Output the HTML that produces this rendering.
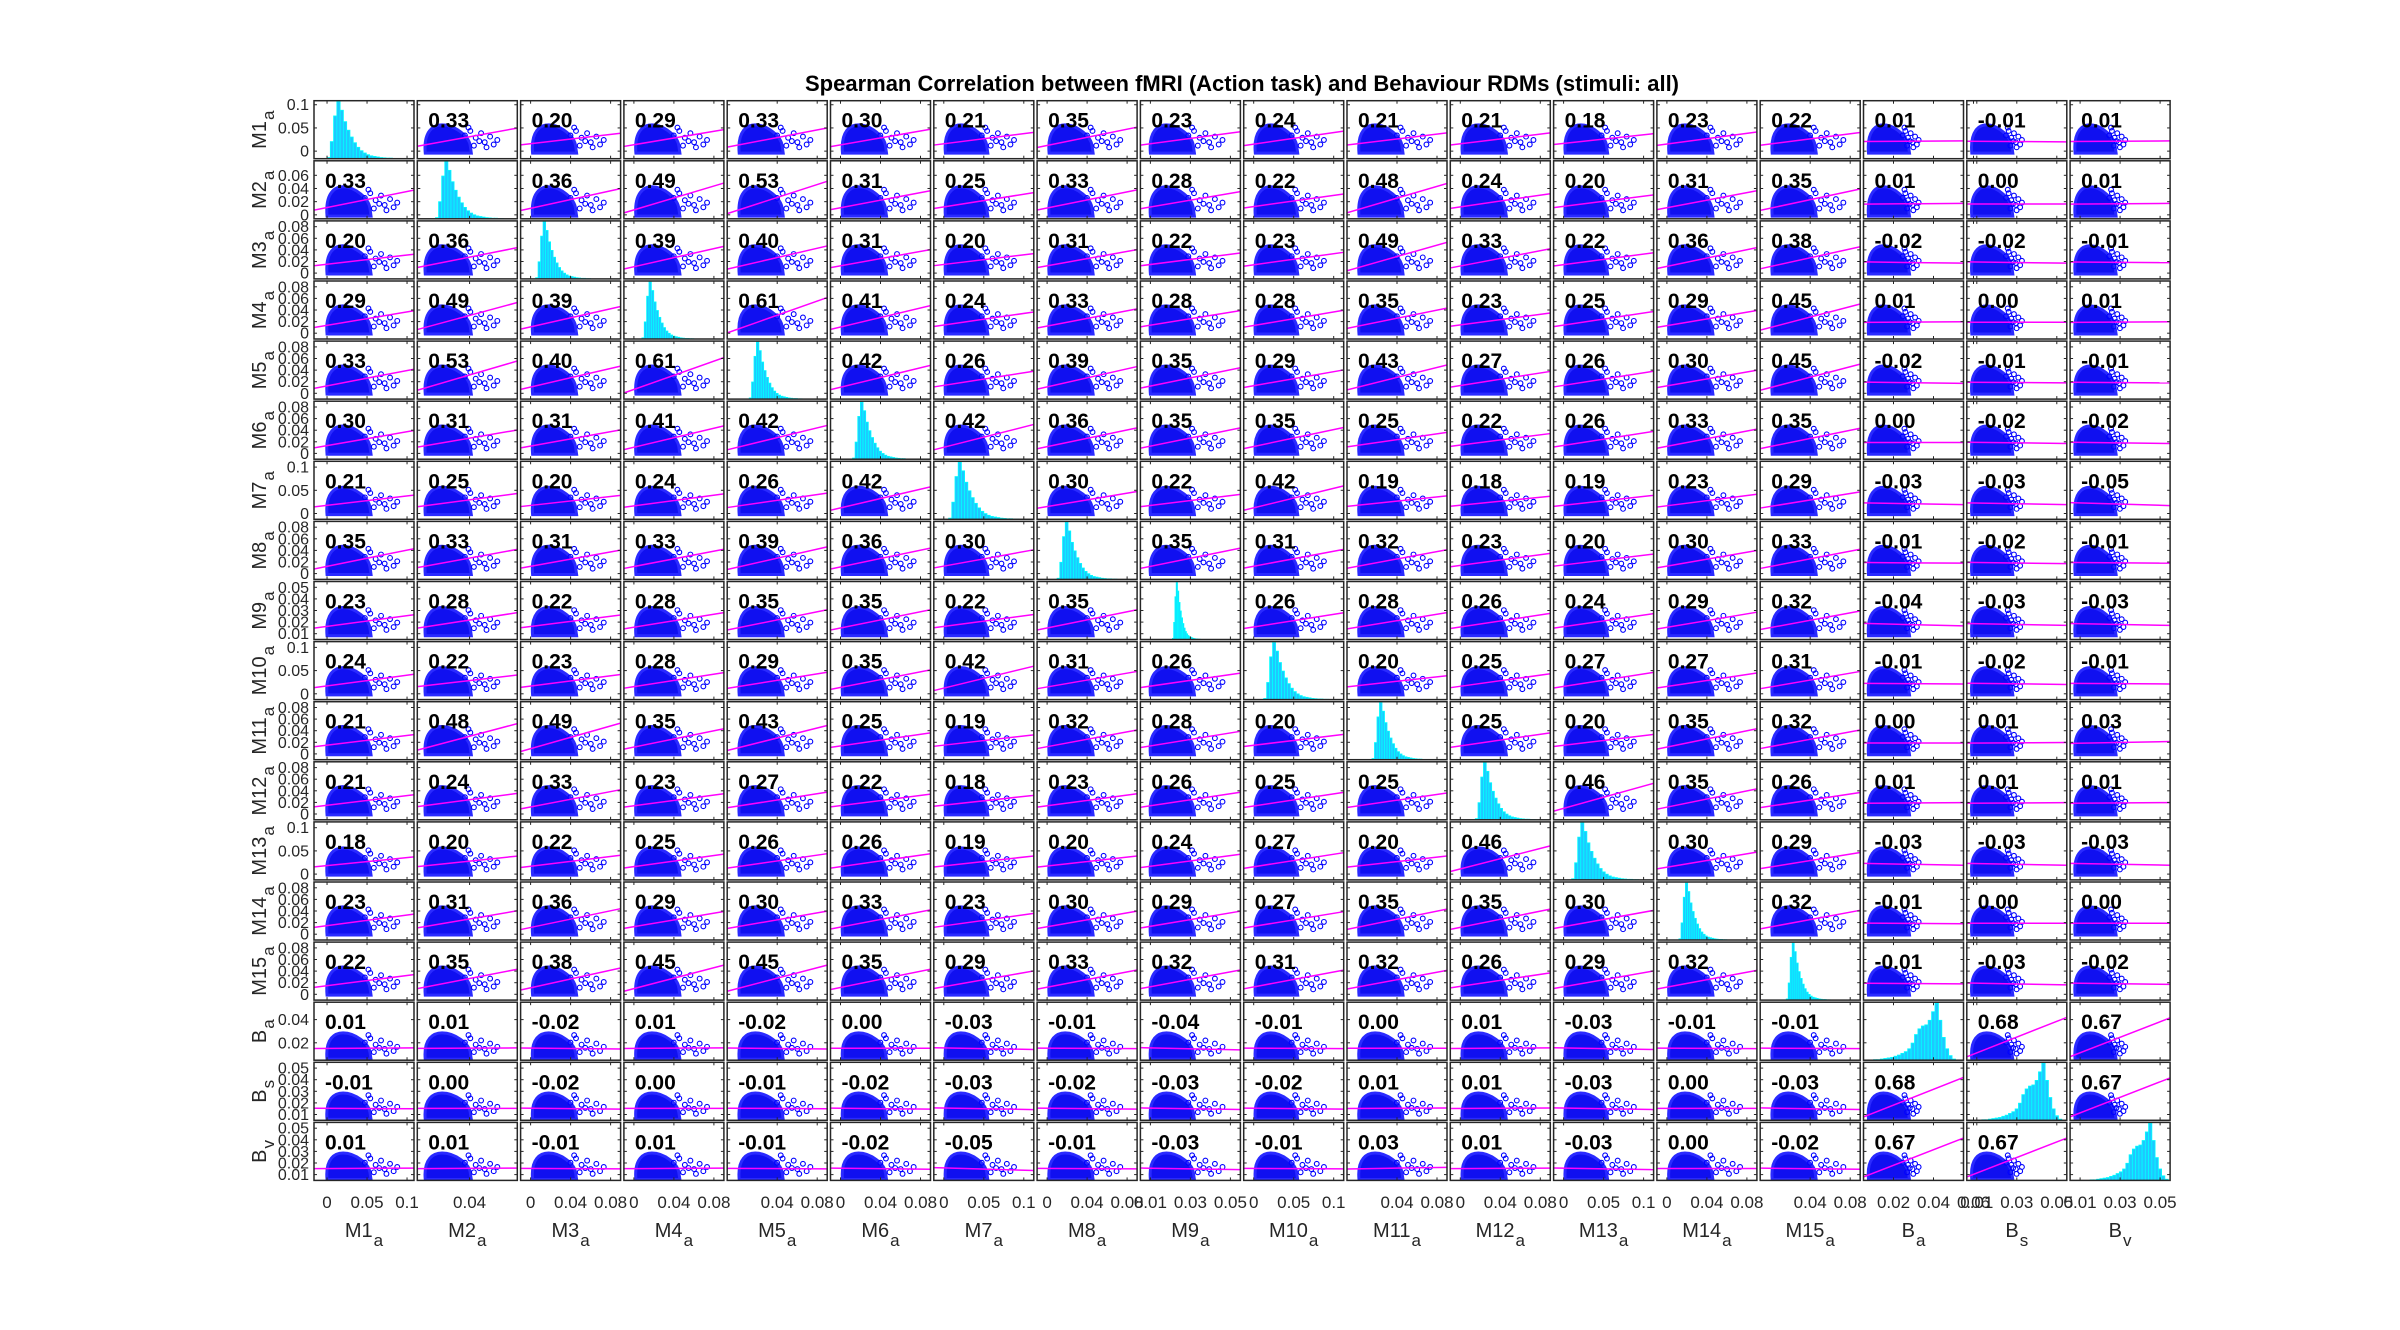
<!DOCTYPE html>
<html><head><meta charset="utf-8">
<style>
html,body{margin:0;padding:0;background:#fff;}
svg{display:block;}
text{font-family:"Liberation Sans",Arial,sans-serif;}
</style></head>
<body>
<svg id="chart" width="2400" height="1330" viewBox="0 0 2400 1330" xmlns="http://www.w3.org/2000/svg">
<rect x="0" y="0" width="2400" height="1330" fill="#fff"/>
<text x="1242" y="91" text-anchor="middle" font-size="22" font-weight="bold" fill="#000">Spearman Correlation between fMRI (Action task) and Behaviour RDMs (stimuli: all)</text>
<g id="cells"></g>
</svg>
<script>
// ---- data ----
const varNames = ["M1","M2","M3","M4","M5","M6","M7","M8","M9","M10","M11","M12","M13","M14","M15","B","B","B"];
const varSubs  = ["a","a","a","a","a","a","a","a","a","a","a","a","a","a","a","a","s","v"];
const corrRows = [
"-,0.33,0.20,0.29,0.33,0.30,0.21,0.35,0.23,0.24,0.21,0.21,0.18,0.23,0.22,0.01,-0.01,0.01",
"0.33,-,0.36,0.49,0.53,0.31,0.25,0.33,0.28,0.22,0.48,0.24,0.20,0.31,0.35,0.01,0.00,0.01",
"0.20,0.36,-,0.39,0.40,0.31,0.20,0.31,0.22,0.23,0.49,0.33,0.22,0.36,0.38,-0.02,-0.02,-0.01",
"0.29,0.49,0.39,-,0.61,0.41,0.24,0.33,0.28,0.28,0.35,0.23,0.25,0.29,0.45,0.01,-0.00,0.01",
"0.33,0.53,0.40,0.61,-,0.42,0.26,0.39,0.35,0.29,0.43,0.27,0.26,0.30,0.45,-0.02,-0.01,-0.01",
"0.30,0.31,0.31,0.41,0.42,-,0.42,0.36,0.35,0.35,0.25,0.22,0.26,0.33,0.35,-0.00,-0.02,-0.02",
"0.21,0.25,0.20,0.24,0.26,0.42,-,0.30,0.22,0.42,0.19,0.18,0.19,0.23,0.29,-0.03,-0.03,-0.05",
"0.35,0.33,0.31,0.33,0.39,0.36,0.30,-,0.35,0.31,0.32,0.23,0.20,0.30,0.33,-0.01,-0.02,-0.01",
"0.23,0.28,0.22,0.28,0.35,0.35,0.22,0.35,-,0.26,0.28,0.26,0.24,0.29,0.32,-0.04,-0.03,-0.03",
"0.24,0.22,0.23,0.28,0.29,0.35,0.42,0.31,0.26,-,0.20,0.25,0.27,0.27,0.31,-0.01,-0.02,-0.01",
"0.21,0.48,0.49,0.35,0.43,0.25,0.19,0.32,0.28,0.20,-,0.25,0.20,0.35,0.32,0.00,0.01,0.03",
"0.21,0.24,0.33,0.23,0.27,0.22,0.18,0.23,0.26,0.25,0.25,-,0.46,0.35,0.26,0.01,0.01,0.01",
"0.18,0.20,0.22,0.25,0.26,0.26,0.19,0.20,0.24,0.27,0.20,0.46,-,0.30,0.29,-0.03,-0.03,-0.03",
"0.23,0.31,0.36,0.29,0.30,0.33,0.23,0.30,0.29,0.27,0.35,0.35,0.30,-,0.32,-0.01,-0.00,0.00",
"0.22,0.35,0.38,0.45,0.45,0.35,0.29,0.33,0.32,0.31,0.32,0.26,0.29,0.32,-,-0.01,-0.03,-0.02",
"0.01,0.01,-0.02,0.01,-0.02,-0.00,-0.03,-0.01,-0.04,-0.01,0.00,0.01,-0.03,-0.01,-0.01,-,0.68,0.67",
"-0.01,0.00,-0.02,-0.00,-0.01,-0.02,-0.03,-0.02,-0.03,-0.02,0.01,0.01,-0.03,-0.00,-0.03,0.68,-,0.67",
"0.01,0.01,-0.01,0.01,-0.01,-0.02,-0.05,-0.01,-0.03,-0.01,0.03,0.01,-0.03,0.00,-0.02,0.67,0.67,-"
];
const axisLo = [-0.0163,-0.006,-0.01,-0.01,-0.01,-0.01,-0.0125,-0.01,0.005,-0.0125,-0.01,-0.01,-0.0125,-0.01,-0.01,0.005,0.005,0.005];
const axisHi = [0.1087,0.082,0.09,0.09,0.09,0.09,0.1125,0.09,0.055,0.1125,0.09,0.09,0.1125,0.09,0.09,0.055,0.055,0.055];
const yTicks = [
[0,0.05,0.1],[0,0.02,0.04,0.06],[0,0.02,0.04,0.06,0.08],[0,0.02,0.04,0.06,0.08],[0,0.02,0.04,0.06,0.08],
[0,0.02,0.04,0.06,0.08],[0,0.05,0.1],[0,0.02,0.04,0.06,0.08],[0.01,0.02,0.03,0.04,0.05],[0,0.05,0.1],
[0,0.02,0.04,0.06,0.08],[0,0.02,0.04,0.06,0.08],[0,0.05,0.1],[0,0.02,0.04,0.06,0.08],[0,0.02,0.04,0.06,0.08],
[0.02,0.04],[0.01,0.02,0.03,0.04,0.05],[0.01,0.02,0.03,0.04,0.05]];
const yTickLabels = [
["0","0.05","0.1"],["0","0.02","0.04","0.06"],["0","0.02","0.04","0.06","0.08"],["0","0.02","0.04","0.06","0.08"],["0","0.02","0.04","0.06","0.08"],
["0","0.02","0.04","0.06","0.08"],["0","0.05","0.1"],["0","0.02","0.04","0.06","0.08"],["0.01","0.02","0.03","0.04","0.05"],["0","0.05","0.1"],
["0","0.02","0.04","0.06","0.08"],["0","0.02","0.04","0.06","0.08"],["0","0.05","0.1"],["0","0.02","0.04","0.06","0.08"],["0","0.02","0.04","0.06","0.08"],
["0.02","0.04"],["0.01","0.02","0.03","0.04","0.05"],["0.01","0.02","0.03","0.04","0.05"]];
const xTicks = [
[0,0.05,0.1],[0.04],[0,0.04,0.08],[0,0.04,0.08],[0.04,0.08],[0,0.04,0.08],[0,0.05,0.1],[0,0.04,0.08],[0.01,0.03,0.05],[0,0.05,0.1],
[0.04,0.08],[0,0.04,0.08],[0,0.05,0.1],[0,0.04,0.08],[0.04,0.08],[0.02,0.04,0.06],[0.01,0.03,0.05],[0.01,0.03,0.05]];
const xTickLabels = [
["0","0.05","0.1"],["0.04"],["0","0.04","0.08"],["0","0.04","0.08"],["0.04","0.08"],["0","0.04","0.08"],["0","0.05","0.1"],["0","0.04","0.08"],["0.01","0.03","0.05"],["0","0.05","0.1"],
["0.04","0.08"],["0","0.04","0.08"],["0","0.05","0.1"],["0","0.04","0.08"],["0.04","0.08"],["0.02","0.04","0.06"],["0.01","0.03","0.05"],["0.01","0.03","0.05"]];
const histStart = [0,0.01,0.005,0.008,0.012,0.012,0.006,0.01,0.021,0.0125,0.015,0.015,0.01,0.012,0.016,0.01,0.0125,0.015];
const histEnd   = [0.09,0.07,0.06,0.06,0.065,0.07,0.094,0.07,0.035,0.094,0.07,0.075,0.094,0.06,0.06,0.051,0.0525,0.054];
const mShape = [0.02,0.3,0.75,1.0,0.85,0.65,0.5,0.38,0.28,0.2,0.14,0.1,0.07,0.05,0.04,0.03,0.02,0.015,0.01,0.01,0.005,0.005];
const bShape = [0.01,0.01,0.02,0.03,0.04,0.05,0.07,0.09,0.12,0.15,0.2,0.3,0.45,0.55,0.6,0.62,0.7,0.85,1.0,0.7,0.4,0.2,0.08,0.02];
const bulkLo = [0,0.001,0.002,0.002,0.002,0.002,0.002,0.002,0.01,0.002,0.002,0.002,0.002,0.002,0.002,0.0075,0.0075,0.0075];
const bulkHi = [0.05,0.038,0.042,0.042,0.042,0.042,0.05,0.042,0.03,0.05,0.042,0.042,0.05,0.042,0.042,0.026,0.026,0.026];
const tailHi = [0.09,0.066,0.075,0.075,0.075,0.075,0.09,0.075,0.047,0.09,0.075,0.075,0.09,0.075,0.075,0.033,0.033,0.033];

const N = 18, X0 = 314, Y0 = 100.7, PX = 103.3, PY = 60.1, CW = 100, CH = 58;
const NS = "http://www.w3.org/2000/svg";
const root = document.getElementById('cells');
function mk(tag, attrs, parent){ const e=document.createElementNS(NS,tag); for(const k in attrs) e.setAttribute(k,attrs[k]); (parent||root).appendChild(e); return e; }
function sx(v,j){ return X0+j*PX + (v-axisLo[j])/(axisHi[j]-axisLo[j])*CW; }
function sy(v,i){ return Y0+i*PY+CH - (v-axisLo[i])/(axisHi[i]-axisLo[i])*CH; }
const corr = corrRows.map(r=>r.split(',').map(s=>s==='-'?null:parseFloat(s)));
const defs = mk('defs',{});
const oPat = [[0.05,1.3],[0.2,1.7],[0.35,1.1],[0.5,1.5],[0.6,0.7],[0.75,1.2],[0.95,0.9],[0.3,0.4],[0.65,0.25],[0.15,2.0],[0.85,0.5],[0.45,0.8]];

for(let i=0;i<N;i++){
  for(let j=0;j<N;j++){
    const cx = X0+j*PX, cy = Y0+i*PY;
    const g = mk('g',{});
    
    
    const cp = mk('clipPath',{id:'c'+i+'_'+j},defs);
    mk('rect',{x:cx,y:cy,width:CW,height:CH},cp);
    const inner = mk('g',{'clip-path':'url(#c'+i+'_'+j+')'},g);
    if(i===j){
      const shape = j>=15 ? bShape : mShape;
      const nb = shape.length, bw = (histEnd[j]-histStart[j])/nb;
      for(let b=0;b<nb;b++){
        const x1 = sx(histStart[j]+b*bw,j), x2 = sx(histStart[j]+(b+1)*bw,j);
        const h = shape[b]*(CH-1);
        const r = mk('rect',{x:x1,y:cy+CH-h,width:Math.max(x2-x1,0.5),height:h,fill:'#1ec8ff',stroke:'#00ffff','stroke-width':0.8},inner);
        
        
      }
    } else {
      const x1=sx(bulkLo[j],j), x2=sx(bulkHi[j],j), y1=sy(bulkLo[i],i)+2, y2=sy(bulkHi[i],i)-3;
      const ex=(x1+x2)/2, ey=(y1+y2)/2, rx=(x2-x1)/2, ry=(y1-y2)/2;
      const d = `M${x1},${y1} C${x1-2},${y2+ry*0.4} ${ex-rx*0.6},${y2} ${ex-rx*0.2},${y2} C${ex+rx*0.4},${y2} ${x2+2},${ey-ry*0.2} ${x2+3},${y1-ry*0.5} L${x2+4},${y1} Z`;
      const blob = mk('path',{d:d,fill:'#1010f0',stroke:'#2a2aff','stroke-width':3},inner);
      
      
      const tx2 = sx(tailHi[j],j), ty2 = sy(tailHi[i],i);
      for(const p of oPat){
        const px = x2 - rx*0.2 + p[0]*(tx2-x2+rx*0.2);
        const py = y1 - 3 - p[1]*(y1-ey)*0.8;
        const c = mk('circle',{cx:px,cy:Math.max(py,ty2),r:2.4,fill:'none',stroke:'#0000ff','stroke-width':1.1},inner);
        
        
      }
      const r = corr[i][j];
      const mxv = bulkLo[j]+0.45*(bulkHi[j]-bulkLo[j]), myv = bulkLo[i]+0.42*(bulkHi[i]-bulkLo[i]);
      const sdx = (bulkHi[j]-bulkLo[j])/4, sdy = (bulkHi[i]-bulkLo[i])/4;
      const slope = r*sdy/sdx;
      const la = axisLo[j], lb = axisHi[j];
      const ln = mk('line',{x1:sx(la,j),y1:sy(myv+slope*(la-mxv),i),x2:sx(lb,j),y2:sy(myv+slope*(lb-mxv),i),stroke:'#ff00ff','stroke-width':1.5},inner);
      
      
      const t = mk('text',{x:cx+11,y:cy+27,'font-size':21,'font-weight':'bold',fill:'#000'},g);
      t.textContent = r.toFixed(2);
      
      
    }
    for(const v of xTicks[j]){ const x=sx(v,j);
      mk('line',{x1:x,y1:cy,x2:x,y2:cy+3,stroke:'#262626','stroke-width':1},g);
      mk('line',{x1:x,y1:cy+CH,x2:x,y2:cy+CH-3,stroke:'#262626','stroke-width':1},g); }
    for(const v of yTicks[i]){ const y=sy(v,i);
      mk('line',{x1:cx,y1:y,x2:cx+3,y2:y,stroke:'#262626','stroke-width':1},g);
      mk('line',{x1:cx+CW,y1:y,x2:cx+CW-3,y2:y,stroke:'#262626','stroke-width':1},g); }
    const fr = mk('rect',{x:cx,y:cy,width:CW,height:CH,fill:'none',stroke:'#262626','stroke-width':1.5},g);
    
    
  }
}
for(let i=0;i<N;i++){
  for(let k=0;k<yTicks[i].length;k++){
    const t = mk('text',{x:X0-5,y:sy(yTicks[i][k],i)+5.5,'text-anchor':'end','font-size':16,fill:'#262626'});
    t.textContent = yTickLabels[i][k];
    
    
  }
  const yc = Y0+i*PY+CH/2;
  const lab = mk('text',{transform:`translate(266,${yc}) rotate(-90)`,'text-anchor':'middle','font-size':20,fill:'#262626'});
  
  
  lab.appendChild(document.createTextNode(varNames[i]));
  const sub = mk('tspan',{dx:1,dy:8,'font-size':17},lab); sub.textContent = varSubs[i];
}
for(let j=0;j<N;j++){
  for(let k=0;k<xTicks[j].length;k++){
    const t = mk('text',{x:sx(xTicks[j][k],j),y:1208,'text-anchor':'middle','font-size':17,fill:'#262626'});
    t.textContent = xTickLabels[j][k];
    
    
  }
  const xc = X0+j*PX+CW/2;
  const lab = mk('text',{x:xc,y:1237,'text-anchor':'middle','font-size':20,fill:'#262626'});
  
  
  lab.appendChild(document.createTextNode(varNames[j]));
  const sub = mk('tspan',{dx:1,dy:9,'font-size':17},lab); sub.textContent = varSubs[j];
}
</script>
</body></html>
